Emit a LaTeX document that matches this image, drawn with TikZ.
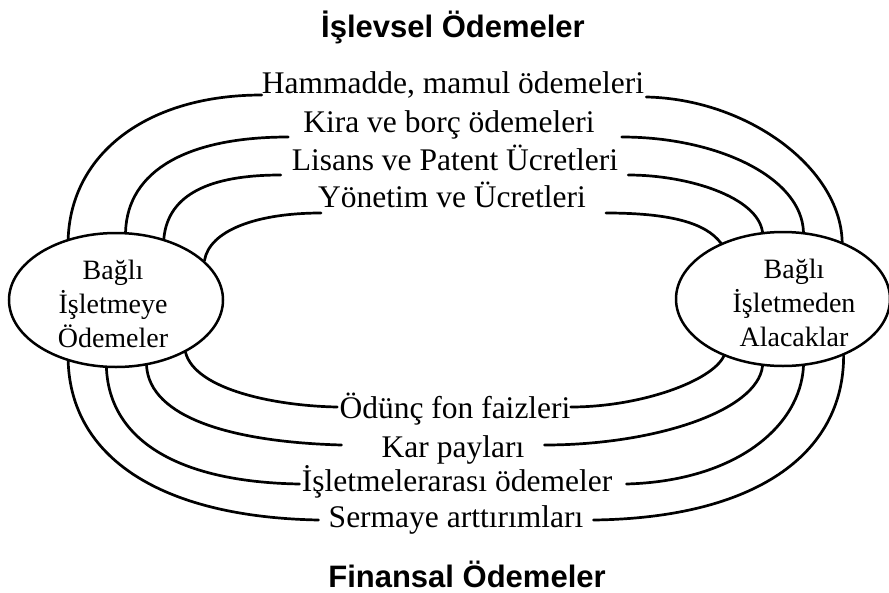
\documentclass[tikz,border=0pt]{standalone}
\usepackage{fontspec}
\setmainfont{Liberation Serif}
\newfontfamily\headfont{Liberation Sans}
\usetikzlibrary{shapes.geometric}
\tikzset{
  item/.style={anchor=base, inner sep=0pt, font=\fontsize{31.5}{36}\selectfont},
  head/.style={anchor=base, inner sep=0pt, font=\headfont\bfseries\fontsize{31}{36}\selectfont},
  party/.style={ellipse, draw, line width=2.5pt, minimum width=214pt, minimum height=134pt, inner sep=0pt},
  partytext/.style={align=center, inner sep=0pt, font=\fontsize{28}{34}\selectfont},
  flow/.style={line width=2.7pt, line cap=round},
}
\begin{document}
\begin{tikzpicture}[x=1pt,y=-1pt]
\useasboundingbox (0,0) rectangle (889,592);

% headings
\node[head] (top) at (453,37) {İşlevsel Ödemeler};
\node[head] (bottom) at (467,587) {Finansal Ödemeler};

% the two parties
\node[party] (L) at (116,300) {};
\node[partytext] (Ltxt) at (113,304) {Bağlı\\İşletmeye\\Ödemeler};
\node[party] (R) at (783,299) {};
\node[partytext] (Rtxt) at (794,303) {Bağlı\\İşletmeden\\Alacaklar};

% operational payments
\node[item] (h) at (453,93) {Hammadde, mamul ödemeleri};
\node[item] (k) at (449,132) {Kira ve borç ödemeleri};
\node[item] (l) at (455,170) {Lisans ve Patent Ücretleri};
\node[item] (y) at (452,207) {Yönetim ve Ücretleri};

% financial payments
\node[item] (o) at (455,418) {Ödünç fon faizleri};
\node[item] (kp) at (453,457) {Kar payları};
\node[item] (i) at (457,491) {İşletmelerarası ödemeler};
\node[item] (s) at (456,527) {Sermaye arttırımları};

% upper flows, left half
\draw[flow] (L.128.7) .. controls +(3,-85) and +(-115,0) .. ([yshift=-2pt]h.base west);
\draw[flow] (L.82.3) .. controls +(2,-62) and +(-100,0) .. ([xshift=-15pt,yshift=-5pt]k.base west);
\draw[flow] (L.52) .. controls +(4,-45) and +(-70,0) .. ([xshift=-11pt,yshift=-5pt]l.base west);
\draw[flow] (L.24.9) .. controls +(5,-30) and +(-65,0) .. ([xshift=3pt,yshift=-6pt]y.base west);

% upper flows, right half
\draw[flow] ([xshift=2pt,yshift=-4pt]h.base east) .. controls +(100,2) and +(-2,-75) .. (R.44.5);
\draw[flow] ([xshift=27pt,yshift=-5pt]k.base east) .. controls +(95,0) and +(-2,-55) .. (R.73.4);
\draw[flow] ([xshift=10pt,yshift=-5pt]l.base east) .. controls +(60,0) and +(-5,-35) .. (R.107.4);
\draw[flow] ([xshift=20pt,yshift=-6pt]y.base east) .. controls +(65,0) and +(-15,-20) .. (R.138.4);

% lower flows, left half
\draw[flow] (L.-128.7) .. controls +(3,95) and +(-160,-3) .. ([xshift=-10pt,yshift=7pt]s.base west);
\draw[flow] (L.-98.6) .. controls +(3,70) and +(-125,-2) .. ([xshift=-2pt,yshift=7pt]i.base west);
\draw[flow] (L.-65.8) .. controls +(3,52) and +(-110,-3) .. ([xshift=-40pt,yshift=12pt]kp.base west);
\draw[flow] (L.-37.9) .. controls +(10,38) and +(-60,-1) .. ([xshift=-2pt,yshift=11pt]o.base west);

% lower flows, right half
\draw[flow] ([yshift=11pt]o.base east) .. controls +(70,0) and +(-12,25) .. (R.-136.9);
\draw[flow] ([xshift=20pt,yshift=12pt]kp.base east) .. controls +(110,0) and +(-5,45) .. (R.-107.4);
\draw[flow] ([xshift=14pt,yshift=7pt]i.base east) .. controls +(110,-3) and +(-3,60) .. (R.-73.4);
\draw[flow] ([xshift=10pt,yshift=7pt]s.base east) .. controls +(160,-2) and +(0,100) .. (R.-43.8);
\end{tikzpicture}
\end{document}
